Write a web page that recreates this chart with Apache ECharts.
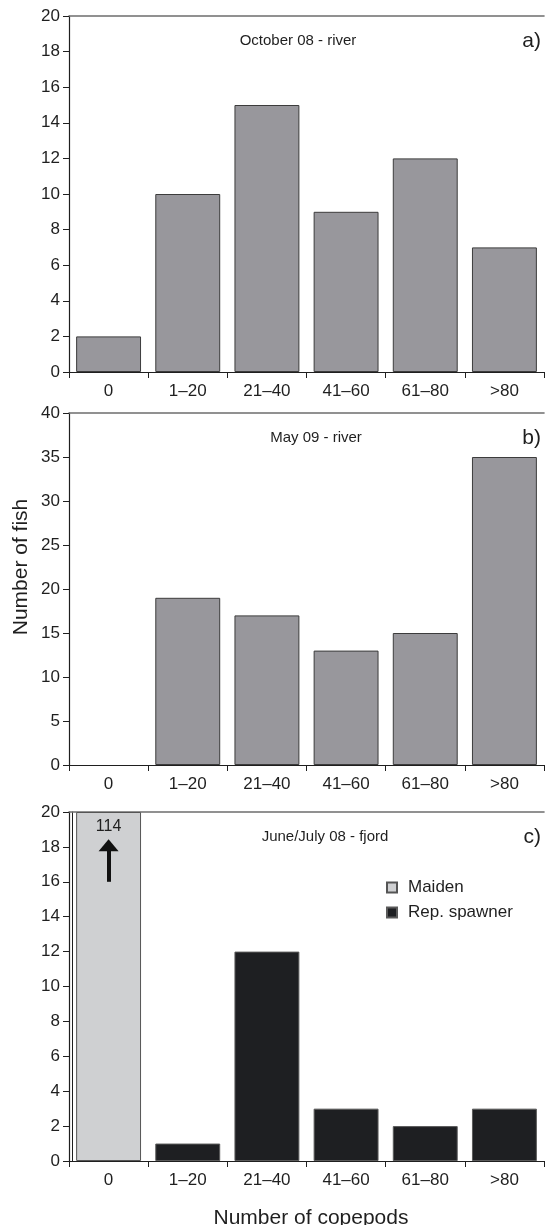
<!DOCTYPE html>
<html>
<head>
<meta charset="utf-8">
<title>Copepods per fish</title>
<script src="https://cdn.jsdelivr.net/npm/echarts@6/dist/echarts.min.js"></script>
<style>
  html, body { margin: 0; padding: 0; background: #ffffff; }
  #chart { width: 545px; height: 1225px; }
</style>
</head>
<body>
<div id="chart"></div>
<script>
// copepod classes (x axis, shared by all panels)
const categories = ['0', '1–20', '21–40', '41–60', '61–80', '>80']

// a) October 08 - river
const octoberRiver = [2, 10, 15, 9, 12, 7]
// b) May 09 - river
const mayRiver = [0, 19, 17, 13, 15, 35]
// c) June/July 08 - fjord, split by life history
const maidenFjord = [114, null, null, null, null, null]
const repSpawnerFjord = [null, 1, 12, 3, 2, 3]

// y axis ranges / tick steps per panel
const yRanges = [
  { max: 20, step: 2 },
  { max: 40, step: 5 },
  { max: 20, step: 2 }
]

const font = '"Liberation Sans", Arial, sans-serif'
const ink = '#1f1f1f'
const greyBar = '#98979c'
const barEdge = '#3c3c3c'

const chart = echarts.init(document.getElementById('chart'))

// panel boxes (px)
const grids = [
  { left: 69, right: 1, top: 16, height: 356 },
  { left: 69, right: 1, top: 413, height: 352 },
  { left: 69, right: 1, top: 812, height: 349 }
]

const xAxes = []
const yAxes = []
grids.forEach((g, i) => {
  // bottom category axis
  xAxes.push({
    type: 'category',
    gridIndex: i,
    position: 'bottom',
    data: categories,
    axisLine: { onZero: false, lineStyle: { color: ink, width: 1.2 } },
    axisTick: { show: true, length: 6, lineStyle: { color: ink } },
    axisLabel: { color: ink, fontSize: 17, fontFamily: font, margin: 11, interval: 0 }
  })
  // top frame line only
  xAxes.push({
    type: 'category',
    gridIndex: i,
    position: 'top',
    data: categories,
    axisLine: { onZero: false, lineStyle: { color: '#6e6e6e', width: 1.6 } },
    axisTick: { show: false },
    axisLabel: { show: false }
  })
  yAxes.push({
    type: 'value',
    gridIndex: i,
    position: 'left',
    min: 0,
    max: yRanges[i].max,
    interval: yRanges[i].step,
    axisLine: { show: true, onZero: false, lineStyle: { color: ink, width: 1.2 } },
    axisTick: { show: true, length: 6, lineStyle: { color: ink } },
    axisLabel: { color: ink, fontSize: 17, fontFamily: font, margin: 9 },
    splitLine: { show: false }
  })
})
// second thin line just inside the y axis in panel c (as in the original)
yAxes.push({
  type: 'value',
  gridIndex: 2,
  position: 'left',
  min: 0,
  max: 20,
  offset: -3,
  axisLine: { show: true, onZero: false, lineStyle: { color: ink, width: 1 } },
  axisTick: { show: false },
  axisLabel: { show: false },
  splitLine: { show: false }
})

const greyStyle = { color: greyBar, borderColor: barEdge, borderWidth: 1 }
const cMax = yRanges[2].max

const panelTitle = (text, x, y) => ({
  text, left: x, top: y, textAlign: 'center', textVerticalAlign: 'middle',
  textStyle: { fontSize: 15, fontWeight: 'normal', color: ink, fontFamily: font }
})
const panelTag = (text, y) => ({
  text, left: 536, top: y, textAlign: 'right', textVerticalAlign: 'middle',
  textStyle: { fontSize: 21, fontWeight: 'normal', color: ink, fontFamily: font }
})

const option = {
  backgroundColor: '#ffffff',
  animation: false,
  textStyle: { fontFamily: font },
  title: [
    panelTitle('October 08 - river', 293, 36),
    panelTag('a)', 36),
    panelTitle('May 09 - river', 311, 433),
    panelTag('b)', 433),
    panelTitle('June/July 08 - fjord', 320, 832),
    panelTag('c)', 832),
    {
      text: 'Number of copepods', left: 306, top: 1213, textAlign: 'center', textVerticalAlign: 'middle',
      textStyle: { fontSize: 21, fontWeight: 'normal', color: ink, fontFamily: font }
    }
  ],
  graphic: [
    {
      type: 'text',
      x: 21,
      y: 567,
      rotation: Math.PI / 2,
      style: {
        text: 'Number of fish',
        fill: ink,
        font: '21px ' + font,
        align: 'center',
        verticalAlign: 'middle'
      }
    }
  ],
  legend: {
    orient: 'vertical',
    left: 381,
    top: 874,
    icon: 'rect',
    itemWidth: 10,
    itemHeight: 10,
    itemGap: 8,
    textStyle: { color: ink, fontSize: 17, fontFamily: font, padding: [0, 0, 0, 6] },
    data: ['Maiden', 'Rep. spawner']
  },
  grid: grids,
  xAxis: xAxes,
  yAxis: yAxes,
  series: [
    {
      name: 'October 08 - river',
      type: 'bar',
      xAxisIndex: 0,
      yAxisIndex: 0,
      data: octoberRiver,
      barCategoryGap: '18%',
      itemStyle: greyStyle
    },
    {
      name: 'May 09 - river',
      type: 'bar',
      xAxisIndex: 2,
      yAxisIndex: 1,
      data: mayRiver.map(v => (v === 0 ? null : v)),
      barCategoryGap: '18%',
      itemStyle: greyStyle
    },
    {
      name: 'Maiden',
      type: 'bar',
      stack: 'fjord',
      xAxisIndex: 4,
      yAxisIndex: 2,
      barCategoryGap: '18%',
      // bar is cut at the top of the axis, real count is printed inside
      data: maidenFjord.map(v => (v == null ? null : Math.min(v, cMax))),
      itemStyle: { color: '#cfd0d2', borderColor: '#555555', borderWidth: 1 },
      label: {
        show: true,
        position: 'insideTop',
        distance: 7,
        color: ink,
        fontSize: 16,
        fontFamily: font,
        formatter: p => String(maidenFjord[p.dataIndex])
      },
      markLine: {
        silent: true,
        symbol: ['none', 'triangle'],
        symbolSize: [20, 12],
        label: { show: false },
        lineStyle: { color: '#111111', width: 4, type: 'solid' },
        data: [[{ coord: [0, 16] }, { coord: [0, 18.1] }]]
      }
    },
    {
      name: 'Rep. spawner',
      type: 'bar',
      stack: 'fjord',
      xAxisIndex: 4,
      yAxisIndex: 2,
      barCategoryGap: '18%',
      data: repSpawnerFjord,
      itemStyle: { color: '#1e1f22', borderColor: '#5a5a5a', borderWidth: 1 }
    }
  ]
}

chart.setOption(option)
window.addEventListener('resize', () => chart.resize())
</script>
</body>
</html>
